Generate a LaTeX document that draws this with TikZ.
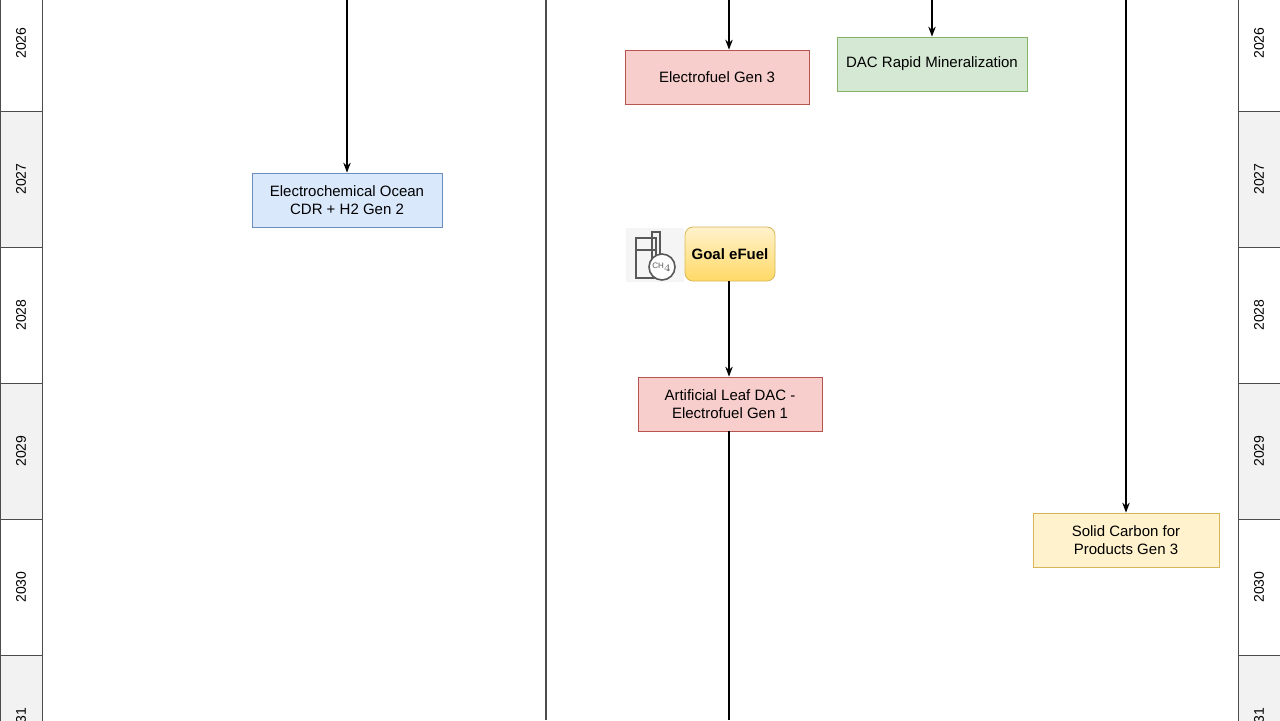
\documentclass[tikz,border=0pt]{standalone}
\usepackage{fontspec}
\setmainfont{Liberation Sans}
\usetikzlibrary{arrows.meta,positioning}
\definecolor{redf}{HTML}{F8CECC}\definecolor{redd}{HTML}{B85450}
\definecolor{grnf}{HTML}{D5E8D4}\definecolor{grnd}{HTML}{82B366}
\definecolor{bluf}{HTML}{DAE8FC}\definecolor{blud}{HTML}{6C8EBF}
\definecolor{yelf}{HTML}{FFF2CC}\definecolor{yeld}{HTML}{D6B656}
\definecolor{gold}{HTML}{FFD966}
\tikzset{
  stage/.style={draw, rectangle, minimum height=27pt, align=center, font=\fontsize{7.5}{9}\selectfont},
  redbox/.style={stage, fill=redf, draw=redd},
  greenbox/.style={stage, fill=grnf, draw=grnd},
  bluebox/.style={stage, fill=bluf, draw=blud},
  yellowbox/.style={stage, fill=yelf, draw=yeld},
  flow/.style={-{Stealth[length=5pt]}, line width=0.6pt},
  year/.style={draw=black!70, minimum width=68pt, minimum height=21pt, font=\fontsize{7}{8}\selectfont, rotate=90}
}
\begin{document}
\begin{tikzpicture}[x=0.5pt,y=-0.5pt]
\useasboundingbox (0,0) rectangle (1280,720);
% year strips
\foreach \yr [count=\i from 0] in {2026,2027,2028,2029,2030,2031} {
  \pgfmathsetmacro{\yc}{43+136*\i}
  \ifodd\i \def\bg{black!5}\else\def\bg{white}\fi
  \node[year, fill=\bg] (l\yr) at (21,\yc) {\yr};
  \node[year, fill=\bg] (r\yr) at (1259,\yc) {\yr};
}
% lane divider
\draw[black!70, line width=0.7pt] (546,0) -- (546,720);
% steps
\node[redbox, minimum width=92pt] (efuel3) at (717,77) {Electrofuel Gen 3};
\node[greenbox, minimum width=95pt] (dacmin) at (932,64) {DAC Rapid Mineralization};
\node[bluebox, minimum width=95pt] (ocean) at (347,200) {Electrochemical Ocean\\CDR + H2 Gen 2};
\node[draw=yeld, rounded corners=4pt, top color=yelf, bottom color=gold, minimum width=45pt, minimum height=27pt, font=\fontsize{7.5}{9}\selectfont\bfseries] (goal) at (730,254) {Goal eFuel};
\node[redbox, minimum width=92pt] (leaf) at (730,404) {Artificial Leaf DAC -\\Electrofuel Gen 1};
\node[yellowbox, minimum width=93pt] (solid) at (1126,540) {Solid Carbon for\\Products Gen 3};
% icon
\begin{scope}[black!65]
\fill[black!4] (626,228) rectangle (684,282);
\draw[thick] (636,238) rectangle (656,278);
\draw[thick] (636,250) -- (656,250);
\draw[thick] (652,232) rectangle (660,262);
\node[draw, thick, circle, fill=white, inner sep=0pt, minimum size=13pt, font=\fontsize{4}{4}\selectfont] (ch4) at (662,267) {CH$_4$};
\end{scope}
% free ends
\coordinate (t1) at (729,0); \coordinate (t2) at (932,0);
\coordinate (t3) at (347,0); \coordinate (t4) at (1126,0);
\coordinate (b1) at (729,720);
\draw[flow] (t1) -- (t1|-efuel3.north);
\draw[flow] (t2) -- (dacmin);
\draw[flow] (t3) -- (ocean);
\draw[flow] (t4) -- (solid);
\draw[flow] (goal.south-|t1) -- (leaf.north-|t1);
\draw[line width=0.6pt] (leaf.south-|b1) -- (b1);
\end{tikzpicture}
\end{document}
